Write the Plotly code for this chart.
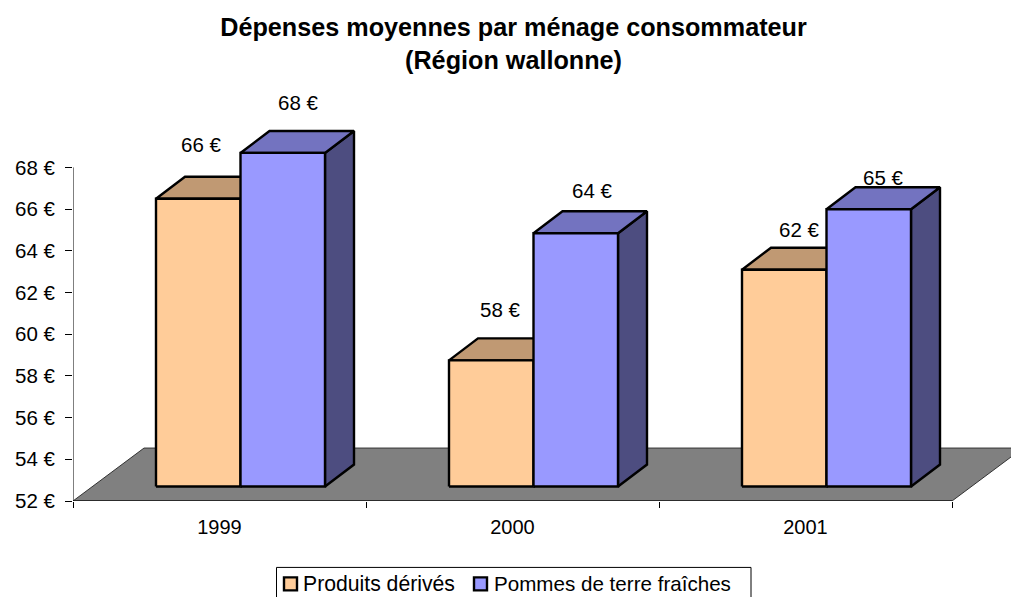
import plotly.graph_objects as go

W, H = 1011, 597

# --- data ---
years = ["1999", "2000", "2001"]
produits_derives = [65.8, 58.05, 62.4]
pommes_de_terre = [68.0, 64.15, 65.3]
series_names = ["Produits dérivés", "Pommes de terre fraîches"]
y_ticks = [52, 54, 56, 58, 60, 62, 64, 66, 68]

# --- styling / projection constants ---
LEFT, RIGHT_EDGE = 73, 1011
BOTTOM_PX, TOP_PX = 501.5, 84
PX_PER_CAT = 293.0
PX_PER_UNIT = (BOTTOM_PX - TOP_PX) / 20
Y_MIN, Y_MAX = 52, 72
X_MAX = (RIGHT_EDGE - LEFT) / PX_PER_CAT

BAR_W = 84.5 / PX_PER_CAT
GROUP_CENTER = 167.5 / PX_PER_CAT
BASE_LIFT = 14.5 / PX_PER_UNIT
DEPTH_X = 29 / PX_PER_CAT
DEPTH_Y = 22 / PX_PER_UNIT
FLOOR_DX = 71 / PX_PER_CAT
FLOOR_DY = 53 / PX_PER_UNIT

ORANGE = dict(front="#FFCC99", top="#C09973", side="#80664D")
BLUE = dict(front="#9999FF", top="#7373C0", side="#4D4D80")
FONT = "Liberation Sans, Arial, sans-serif"
TXT = "#000000"

# label offsets (px) from the bar's top-centre, per series per year
LABEL_SHIFT = {
    0: [(3, 54), (9, 51), (14.5, 40)],
    1: [(15.5, 50), (16, 43), (14, 32)],
}

fig = go.Figure()


def poly(xs, ys, fill, lw=2.4, lc="#000000"):
    fig.add_trace(go.Scatter(
        x=xs + xs[:1], y=ys + ys[:1], mode="lines", fill="toself",
        fillcolor=fill, line=dict(color=lc, width=lw), hoverinfo="skip",
        showlegend=False,
    ))


# floor
poly([0, 3, 3 + FLOOR_DX, FLOOR_DX],
     [Y_MIN, Y_MIN, Y_MIN + FLOOR_DY, Y_MIN + FLOOR_DY],
     "#808080", lw=1, lc="#333333")

# y axis line
fig.add_trace(go.Scatter(x=[0, 0], y=[y_ticks[0], y_ticks[-1]], mode="lines",
                         line=dict(color="#000000", width=1),
                         hoverinfo="skip", showlegend=False))
# x axis line
fig.add_trace(go.Scatter(x=[0, 3], y=[Y_MIN, Y_MIN], mode="lines",
                         line=dict(color="#000000", width=1),
                         hoverinfo="skip", showlegend=False))

base = Y_MIN + BASE_LIFT
annotations = []
for i, yr in enumerate(years):
    for s, (vals, col) in enumerate(((produits_derives, ORANGE), (pommes_de_terre, BLUE))):
        v = vals[i]
        x0 = i + GROUP_CENTER + (s - 1) * BAR_W
        x1 = x0 + BAR_W
        top = base + (v - Y_MIN)
        # side
        poly([x1, x1 + DEPTH_X, x1 + DEPTH_X, x1],
             [base, base + DEPTH_Y, top + DEPTH_Y, top], col["side"])
        # top
        poly([x0, x1, x1 + DEPTH_X, x0 + DEPTH_X],
             [top, top, top + DEPTH_Y, top + DEPTH_Y], col["top"])
        # front
        poly([x0, x1, x1, x0], [base, base, top, top], col["front"])
        dx, dy = LABEL_SHIFT[s][i]
        annotations.append(dict(
            x=(x0 + x1) / 2, y=top, xref="x", yref="y",
            text=f"{round(v)} €", showarrow=False,
            xshift=dx, yshift=dy, xanchor="center", yanchor="middle",
            font=dict(family=FONT, size=20.5, color=TXT),
        ))

# custom legend (tight swatch-to-text spacing)
LEG_BOX = (276.5, 568, 751, 604)
shapes = [dict(type="rect", xref="paper", yref="paper",
               x0=(LEG_BOX[0] - LEFT) / (RIGHT_EDGE - LEFT),
               x1=(LEG_BOX[2] - LEFT) / (RIGHT_EDGE - LEFT),
               y0=(BOTTOM_PX - LEG_BOX[3]) / (BOTTOM_PX - TOP_PX),
               y1=(BOTTOM_PX - LEG_BOX[1]) / (BOTTOM_PX - TOP_PX),
               line=dict(color="#000000", width=1), fillcolor="#FFFFFF")]
for name, col, sx, tx, fs in zip(series_names, (ORANGE, BLUE), (284, 474), (303, 494), (21.2, 20.6)):
    shapes.append(dict(type="rect", xref="paper", yref="paper",
                       x0=(sx - LEFT) / (RIGHT_EDGE - LEFT),
                       x1=(sx + 13 - LEFT) / (RIGHT_EDGE - LEFT),
                       y0=(BOTTOM_PX - 591) / (BOTTOM_PX - TOP_PX),
                       y1=(BOTTOM_PX - 578) / (BOTTOM_PX - TOP_PX),
                       line=dict(color="#000000", width=2.4), fillcolor=col["front"]))
    annotations.append(dict(
        x=(tx - LEFT) / (RIGHT_EDGE - LEFT),
        y=(BOTTOM_PX - 584.5) / (BOTTOM_PX - TOP_PX),
        xref="paper", yref="paper", text=name, showarrow=False,
        xanchor="left", yanchor="middle", xshift=-2,
        font=dict(family=FONT, size=fs, color=TXT),
    ))

fig.update_layout(
    width=W, height=H,
    margin=dict(l=LEFT, r=W - RIGHT_EDGE, t=TOP_PX, b=H - BOTTOM_PX, pad=0),
    paper_bgcolor="#FFFFFF", plot_bgcolor="#FFFFFF",
    showlegend=False,
    title=dict(
        text="Dépenses moyennes par ménage consommateur<br>(Région wallonne)",
        x=513.5 / W, xref="container", xanchor="center",
        y=1 - 36 / H, yref="container", yanchor="top",
        font=dict(family=FONT, size=25.2, color=TXT, weight="bold"),
    ),
    xaxis=dict(
        range=[0, X_MAX], showgrid=False, zeroline=False, showline=False,
        tickmode="array", tickvals=[0.5, 1.5, 2.5], ticktext=years, ticks="",
        tickfont=dict(family=FONT, size=20, color=TXT),
        ticklabelstandoff=12,
        minor=dict(tickmode="array", tickvals=[0, 1, 2, 3], ticks="outside",
                   ticklen=6, tickwidth=1, tickcolor="#000000", showgrid=False),
    ),
    yaxis=dict(
        range=[Y_MIN, Y_MAX], showgrid=False, zeroline=False, showline=False,
        tickmode="array", tickvals=y_ticks, ticktext=[f"{t} €" for t in y_ticks],
        ticks="outside", ticklen=7, tickwidth=1, tickcolor="#000000",
        tickfont=dict(family=FONT, size=20.5, color=TXT),
        ticklabelstandoff=6,
    ),
    annotations=annotations,
    shapes=shapes,
)

fig.write_html("out.html", config=dict(displayModeBar=False),
               post_script="document.body.style.margin='0';")
